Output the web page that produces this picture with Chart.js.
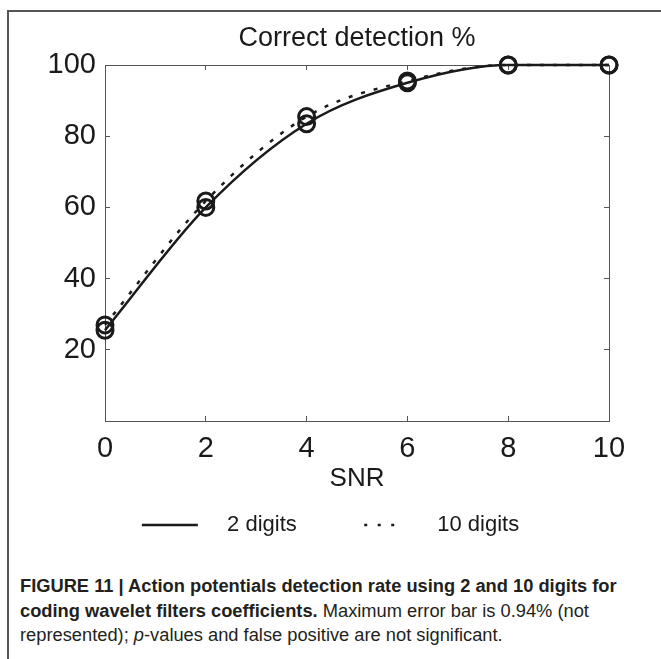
<!DOCTYPE html>
<html>
<head>
<meta charset="utf-8">
<title>Correct detection %</title>
<script src="https://cdn.jsdelivr.net/npm/chart.js@4.4.0/dist/chart.umd.min.js"></script>
<style>
  html, body { margin: 0; padding: 0; background: #fff; }
  #page { position: relative; width: 661px; height: 659px; overflow: hidden; }
  #frame {
    position: absolute; left: 7px; top: 10px; right: -4px; bottom: -4px;
    border-top: 2px solid #555; border-left: 2px solid #555;
  }
  #wrap { position: absolute; left: 0; top: 0; width: 661px; height: 546px; }
  .cap {
    position: absolute; left: 20px; line-height: 20px;
    font-family: "Liberation Sans", Arial, sans-serif; font-size: 18.3px;
    color: #231f20; white-space: nowrap;
  }
  .cap b { font-weight: bold; }
</style>
</head>
<body>
<div id="page">
  <div id="frame"></div>
  <div id="wrap"><canvas id="chart"></canvas></div>
  <div class="cap" style="top:576px"><b>FIGURE 11 | Action potentials detection rate using 2 and 10 digits for</b></div>
  <div class="cap" style="top:601px"><b>coding wavelet filters coefficients.</b> Maximum error bar is 0.94% (not</div>
  <div class="cap" style="top:625px">represented); <i>p</i>-values and false positive are not significant.</div>
</div>
<script>
// values
const snr = [0, 2, 4, 6, 8, 10];
const twoDigits = [25.5, 60, 83.5, 95, 100, 100];
const tenDigits = [27, 61.8, 85.5, 95.5, 100, 100];
const xTicks = [0, 2, 4, 6, 8, 10];
const yTicks = [20, 40, 60, 80, 100];

const FONT = "'Liberation Sans', Arial, sans-serif";
const INK = "#1a1a1a";
const AXIS = "#555";

function toPoints(ys) {
  return snr.map((x, i) => ({ x, y: ys[i] }));
}

// fixed sizes so the plot box lands where the original has it
const fixWidth = (w) => (scale) => { scale.width = w; };
const fixHeight = (h) => (scale) => { scale.height = h; };

const lineSet = (label, ys, dash) => ({
  label,
  data: toPoints(ys),
  borderColor: INK,
  borderWidth: 2.5,
  borderDash: dash,
  cubicInterpolationMode: "monotone",
  pointRadius: 8,
  pointBorderWidth: 3,
  pointBorderColor: INK,
  pointBackgroundColor: "rgba(0,0,0,0)",
  clip: false,
});

const boxAxis = {
  border: { display: true, color: AXIS, width: 1 },
  grid: { drawOnChartArea: false, drawTicks: true, tickLength: -5, color: AXIS },
};

new Chart(document.getElementById("chart"), {
  type: "line",
  data: {
    datasets: [
      lineSet("2 digits", twoDigits, []),
      lineSet("10 digits", tenDigits, [4, 9]),
    ],
  },
  options: {
    responsive: true,
    maintainAspectRatio: false,
    animation: false,
    layout: { padding: 0 },
    plugins: {
      tooltip: { enabled: false },
      title: {
        display: true,
        text: "Correct detection %",
        color: INK,
        fullSize: false,
        font: { family: FONT, size: 27, weight: "normal" },
        padding: { top: 22, bottom: 10.6 },
      },
      legend: {
        position: "bottom",
        labels: {
          usePointStyle: true,
          pointStyleWidth: 62,
          padding: 43,
          color: INK,
          font: { family: FONT, size: 22 },
          generateLabels: () => [
            {
              text: "  2 digits    ", pointStyle: "line", strokeStyle: INK,
              lineWidth: 2.5, lineDash: [56, 100], fontColor: INK, datasetIndex: 0,
            },
            {
              text: "10 digits", pointStyle: "line", strokeStyle: INK,
              lineWidth: 2.5, lineDash: [3, 10.5, 3, 10.5, 3, 100],
              fontColor: INK, datasetIndex: 1,
            },
          ],
        },
      },
    },
    scales: {
      x: {
        type: "linear",
        position: "bottom",
        min: 0,
        max: 10,
        afterFit: fixHeight(50),
        afterBuildTicks: (s) => { s.ticks = xTicks.map((v) => ({ value: v })); },
        ...boxAxis,
        ticks: { color: INK, padding: 15.6, font: { family: FONT, size: 29 }, maxRotation: 0 },
        title: {
          display: true,
          text: "SNR",
          color: INK,
          font: { family: FONT, size: 26 },
          padding: { top: 0, bottom: -23.6 },
        },
      },
      xTop: {
        type: "linear",
        position: "top",
        min: 0,
        max: 10,
        afterFit: fixHeight(0),
        afterBuildTicks: (s) => { s.ticks = xTicks.map((v) => ({ value: v })); },
        ...boxAxis,
        ticks: { display: false },
      },
      y: {
        position: "left",
        min: 0,
        max: 100,
        afterFit: fixWidth(105),
        afterBuildTicks: (s) => { s.ticks = yTicks.map((v) => ({ value: v })); },
        ...boxAxis,
        ticks: { color: INK, padding: 14, font: { family: FONT, size: 29 } },
      },
      yRight: {
        position: "right",
        min: 0,
        max: 100,
        afterFit: fixWidth(52),
        afterBuildTicks: (s) => { s.ticks = yTicks.map((v) => ({ value: v })); },
        ...boxAxis,
        ticks: { display: false },
      },
    },
  },
});
</script>
</body>
</html>
